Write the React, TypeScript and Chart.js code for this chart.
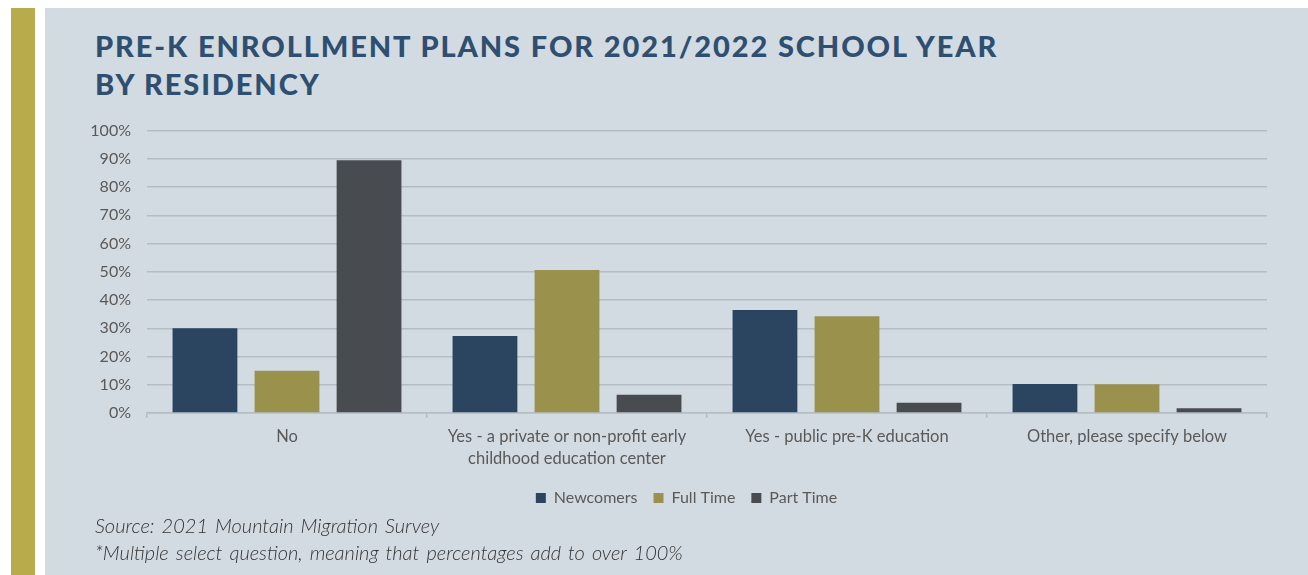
import React, { useEffect, useRef } from "react";
import { Chart, registerables } from "chart.js";

Chart.register(...registerables);

const categories: (string | string[])[] = [
  "No",
  ["Yes - a private or non-profit early", "childhood education center"],
  "Yes - public pre-K education",
  "Other, please specify below",
];
const newcomers = [30.0, 27.3, 36.5, 10.3];
const fullTime = [15.0, 50.6, 34.3, 10.2];
const partTime = [89.5, 6.5, 3.6, 1.7];
const seriesNames = ["Newcomers", "Full Time", "Part Time"];
const seriesColors = ["#2b4560", "#9a914c", "#484b50"];
const yTicks = [0, 10, 20, 30, 40, 50, 60, 70, 80, 90, 100];

const AXIS_FONT = { family: "Lato, sans-serif", size: 16.5, lineHeight: 1.3 };
const GRID = "#b4bcc4";

const shiftLegend = {
  id: "shiftLegend",
  afterLayout(chart: any) {
    if (chart.legend) {
      chart.legend.left += 26;
    }
  },
};

export default function App() {
  const ref = useRef<HTMLCanvasElement | null>(null);
  useEffect(() => {
    document.body.style.margin = "0";
    const ctx = ref.current!;
    const chart = new Chart(ctx, {
      type: "bar",
      data: {
        labels: categories as any,
        datasets: [newcomers, fullTime, partTime].map((d, i) => ({
          label: seriesNames[i],
          data: d,
          backgroundColor: seriesColors[i],
          borderWidth: 0,
          categoryPercentage: 0.879,
          barPercentage: 0.79,
        })),
      },
      plugins: [shiftLegend],
      options: {
        responsive: false,
        animation: false,
        devicePixelRatio: 1,
        layout: { padding: { top: 6, right: 23, left: 0, bottom: 0 } },
        plugins: {
          tooltip: { enabled: false },
          legend: {
            position: "bottom",
            labels: {
              boxWidth: 10,
              boxHeight: 10,
              padding: 16,
              color: "#595959",
              font: { family: "Lato, sans-serif", size: 16 },
            },
          },
        },
        scales: {
          x: {
            grid: {
              display: true,
              offset: true,
              drawOnChartArea: false,
              drawTicks: true,
              tickLength: 5,
              color: GRID,
              lineWidth: 1.5,
            },
            border: { display: true, color: GRID, width: 1.5 },
            ticks: {
              color: "#595959",
              font: AXIS_FONT,
              maxRotation: 0,
              autoSkip: false,
              padding: 8,
            },
            afterFit: (s: any) => {
              s.height = 61;
            },
          },
          y: {
            min: 0,
            max: 100,
            afterBuildTicks: (s: any) => {
              s.ticks = yTicks.map((v) => ({ value: v }));
            },
            grid: { color: GRID, lineWidth: 1.5, drawTicks: false },
            border: { display: false },
            ticks: {
              color: "#595959",
              font: { family: "Lato, sans-serif", size: 16 },
              padding: 16,
              callback: (v: any) => v + "%",
            },
            afterFit: (s: any) => {
              s.width = 67;
            },
          },
        },
      },
    });
    return () => chart.destroy();
  }, []);

  return (
    <div style={{ position: "relative", width: 1308, height: 575, background: "#ffffff", overflow: "hidden" }}>
      <div style={{ position: "absolute", left: 11, top: 8, width: 24, height: 567, background: "#b8ab4c" }} />
      <div style={{ position: "absolute", left: 45, top: 8, width: 1263, height: 567, background: "#d3dbe2" }} />
      <div
        style={{
          position: "absolute",
          left: 95,
          top: 27,
          fontFamily: "Lato, sans-serif",
          fontWeight: 900,
          fontSize: 29,
          lineHeight: "37.5px",
          letterSpacing: "1.9px",
          color: "#2f4f70",
          whiteSpace: "nowrap",
        }}
      >
        PRE-K ENROLLMENT PLANS FOR 2021/2022 SCHOOL YEAR
        <br />
        BY RESIDENCY
      </div>
      <canvas
        ref={ref}
        width={1210}
        height={411}
        style={{ position: "absolute", left: 80, top: 105, width: 1210, height: 411 }}
      />
      <div
        style={{
          position: "absolute",
          left: 95,
          top: 512,
          fontFamily: "Lato, sans-serif",
          fontStyle: "italic",
          fontWeight: 300,
          fontSize: 20,
          wordSpacing: "2px",
          lineHeight: "27px",
          color: "#333333",
          whiteSpace: "nowrap",
        }}
      >
        Source: 2021 Mountain Migration Survey
        <br />
        *Multiple select question, meaning that percentages add to over 100%
      </div>
    </div>
  );
}
